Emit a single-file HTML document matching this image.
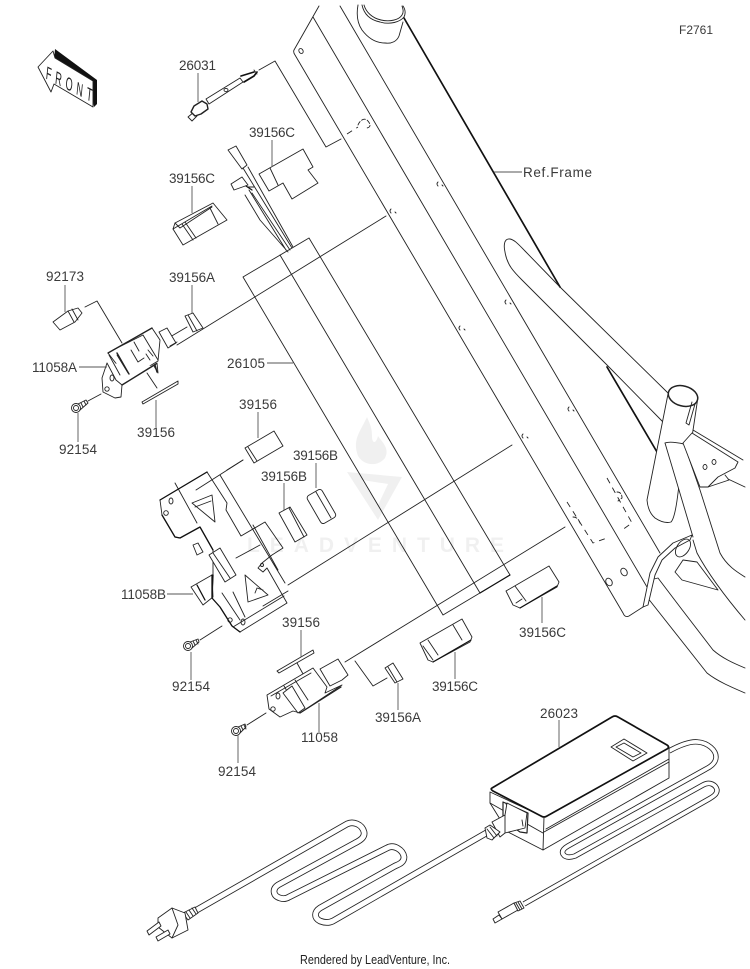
<!DOCTYPE html>
<html><head><meta charset="utf-8"><style>
html,body{margin:0;padding:0;background:#fff}
svg{display:block}
text{font-family:"Liberation Sans",sans-serif;font-size:13.5px;fill:#3a3a3a}
.l{fill:none;stroke:#222;stroke-width:.9;stroke-linejoin:round;stroke-linecap:round}
.w{fill:#fff;stroke:#222;stroke-width:.9;stroke-linejoin:round}
.t{fill:none;stroke:#111;stroke-width:1.7;stroke-linejoin:round;stroke-linecap:round}
.d{fill:none;stroke:#222;stroke-width:.9;stroke-dasharray:6 5}
.g{fill:none;stroke:#555;stroke-width:.9}
.c1{fill:none;stroke:#222;stroke-width:5.4;stroke-linejoin:round;stroke-linecap:butt}
.c2{fill:none;stroke:#fff;stroke-width:3.7;stroke-linejoin:round;stroke-linecap:butt}
.a1{fill:none;stroke:#222;stroke-width:6.6;stroke-linejoin:round;stroke-linecap:butt}
.a2{fill:none;stroke:#fff;stroke-width:4.9;stroke-linejoin:round;stroke-linecap:butt}
</style></head><body>
<svg width="750" height="969" viewBox="0 0 750 969" xmlns="http://www.w3.org/2000/svg">
<rect width="750" height="969" fill="#fff"/>

<!-- frame -->
<path class="l" d="M319 6L294 50Q293 52 295 55L623 613Q625 618 629 616L643 607"/>
<path class="l" d="M313 17L647 587"/>
<path class="l" d="M340 6L660 553"/>
<path class="t" d="M404 18L560 287"/>
<path class="t" d="M607 367L657 452"/>
<path class="l" d="M510 239C503 238 504 248 505 252C507 265 514 272 522 280L607 365L663 422"/>
<path class="l" d="M510 239C515 240 519 245 525 251L560 287L668 393"/>
<path class="l" d="M358 5C356 16 358 24 362 30C368 38 376 43 385 43C392 44 397 41 399 36L403 22"/>
<path class="l" d="M362 5C364 14 370 20 380 22C390 25 400 22 404 17C406 13 405 9 403 6"/>
<path class="l" d="M364 5C366 12 372 18 381 20C390 22 399 20 402 15C404 12 403 9 402 6"/>
<!-- ticks -->
<path class="l" d="M438 182q-2 2 0 4M442 185l1 1M391 209q-2 2 0 4M395 212l1 1M506 300q-2 2 0 4M510 303l1 1M460 326q-2 2 0 4M464 329l1 1M569 407q-2 2 0 4M573 410l1 1M523 434q-2 2 0 4M527 437l1 1"/>
<path class="l" d="M259 70L275 61L326 147L341 139"/>
<path class="d" d="M347 134L358 127"/>
<path class="l" stroke-dasharray="4 2" d="M358 125C360 120 364 118 367 120C371 124 371 127 367 128"/>
<ellipse class="l" cx="301" cy="51" rx="2" ry="2.6" transform="rotate(-30 301 51)"/>
<!-- post -->
<path class="w" d="M668 394L647 500Q648 512 655 518Q664 524 671 522Q675 518 678 493L684 446L692 437L698 397Z" />
<ellipse class="w" cx="683" cy="396" rx="15" ry="10" transform="rotate(15 683 396)" style="stroke-width:1.5"/>
<path class="l" d="M692 402L686 423M695 404L689 425M686 423L689 425"/>
<path class="w" d="M665 443Q670 441 684 444L700 490L720 553L745 577L745 620L717 587L697 553L693 537Z" style="stroke:none"/>
<path class="l" d="M665 443Q670 441 684 444L700 490L720 553C727 566 737 572 745 577"/>
<path class="l" d="M665 443L693 537"/>
<path class="l" d="M693 430L743 460M728 479L745 487"/>
<path class="w" d="M683 443L700 487L708 487L718 477L735 468L738 462L692 433Z"/>
<path class="l" d="M725 475L729 480L708 487"/>
<ellipse class="l" cx="705" cy="467" rx="2" ry="2.5"/><ellipse class="l" cx="714" cy="462" rx="2" ry="2.5"/>
<path class="l" d="M650 580L658 578L680 607L713 650C722 658 733 663 745 668"/>
<path class="l" d="M647 597L707 673C717 681 731 687 745 693"/>
<path class="l" d="M693 540L697 553C704 566 717 587 745 620"/>
<path class="l" d="M675 572L683 560L697 562L718 590M675 572L682 580L718 590"/>
<path class="w" d="M643 607L650 573L658 557L673 543L692 535L690 540L675 548L662 560L655 575L648 605Z"/>
<ellipse class="l" cx="683" cy="548" rx="6" ry="10" transform="rotate(35 683 548)"/>
<ellipse class="l" cx="609" cy="582" rx="3" ry="4" transform="rotate(-30 609 582)"/>
<ellipse class="l" cx="624" cy="572" rx="3" ry="4" transform="rotate(-30 624 572)"/>
<path class="d" d="M567 502L593 543L607 538"/>
<path class="d" d="M607 478L632 523L622 530"/>
<path class="l" stroke-dasharray="4 2" d="M617 492Q622 492 622 498L618 501M573 517Q578 517 580 523"/>

<!-- strap -->
<path class="l" d="M177 345L386 216"/>
<path class="l" d="M288 585L512 445"/>
<path class="l" d="M345 662L565 527"/>
<path class="l" d="M243 277L309 238L510 575L443 615Z"/>
<path class="l" d="M280 255L480 593"/>
<path class="t" style="stroke-width:1.2" d="M480 593L510 575"/>

<!-- sensor 26031 -->
<path class="w" d="M188 117L192 121L197 116L194 112Z"/>
<path class="w" d="M191 112L194 106L202 101L207 104L208 109L201 114L195 116Z" style="stroke-width:1.4"/>
<path class="w" d="M206 99L240 78L243 82L209 104Z"/>
<path class="t" d="M241 76L254 72M244 82L254 76L257 72"/>
<path class="l" d="M254 70L257 74"/>
<ellipse class="l" cx="226" cy="90" rx="2" ry="1.6"/>

<!-- wires -->
<path class="w" d="M228 150L236 146L247 165L242 169Z"/>
<path class="l" d="M243 168L292 248M248 167L293 247"/>
<path class="w" d="M231 184L242 177L248 185L234 190Z"/>
<path class="l" d="M245 195L260 220L288 252M252 193L290 250M248 187L254 187M249 190L286 250"/>
<path class="t" style="stroke-width:1.2" d="M246 186L252 190"/>

<!-- 39156C top -->
<path class="w" d="M259 174L303 149L313 167L308 170L318 183L292 199L283 183L269 191Z"/>
<path class="l" d="M270 168L278 185"/>
<!-- 39156C left -->
<path class="w" d="M173 229L175 223L213 203L227 220L183 245Z"/>
<path class="l" d="M175 223L180 228L212 207M182 224L193 240M185 222L196 238M210 208L218 224M173 229L212 206"/>

<!-- 92173 -->
<path class="w" d="M53 322L68 311L78 308L82 313L75 322L60 330Z"/>
<path class="l" d="M68 311L74 322M72 309L78 320"/>
<path class="l" d="M85 307L97 301L122 343"/>

<!-- 39156A upper -->
<path class="w" d="M185 316L193 313L203 328L193 332Z"/>
<path class="l" d="M188 315L197 331M170 337L187 327"/>

<!-- 11058A -->
<path class="w" d="M159 332L167 328L176 343L168 348Z"/>
<path class="l" d="M170 346L177 342"/>
<path class="w" d="M108 353L152 328L160 340L158 361L128 379Z"/>
<path class="w" d="M107 363L102 378L103 392L115 398L121 397L122 385L157 363L158 373L154 366"/>
<path class="l" style="stroke-width:1.3" d="M108 353L152 328"/>
<path class="l" d="M113 350L143 335L158 360M117 355L128 373M109 355L120 375M107 363L116 380L122 385"/>
<path class="l" style="stroke-width:1.4" d="M117 353L129 374M122 385L156 364M155 365L157 372"/>
<path class="l" d="M134 342L139 351M131 350L138 362L144 358M146 354L150 360M148 350L153 356"/>
<ellipse class="l" cx="112" cy="378" rx="2" ry="3"/><circle class="l" cx="107" cy="389" r="2.2"/>
<!-- screw -->
<circle class="l" cx="76" cy="408" r="4.5"/><circle class="l" cx="76" cy="408" r="2.5"/>
<path class="l" d="M78 404L86 400L88 403L80 410M81 403L83 407M84 401L86 405M88 401L101 394"/>
<!-- strip -->
<path class="w" d="M142 402L178 381L178 384L143 404Z"/>
<path class="l" d="M147 373L157 388"/>

<!-- 39156 upper -->
<path class="w" d="M245 448L274 431L283 446L254 463Z"/>
<path class="l" d="M248 447L257 461M227 470L243 460"/>

<!-- 11058B -->
<path class="w" d="M160 500L207 472L227 503L226 510L241 536L265 522L283 548L272 555L262 563L258 568L263 572L267 568L287 603L240 632L232 626L220 607L212 598L213 575L213 550L200 527L180 538L175 537L162 515Z"/>
<path class="t" style="stroke-width:1.3" d="M160 500L207 472M162 515L175 537L180 538L200 527L213 550M213 575L212 598L220 607L232 626L240 632"/>
<path class="l" d="M220 475L285 583M196 490L243 460M175 483L197 523M253 525L278 570M236 558L260 545M263 606L288 591M222 593L240 620M233 592L245 617M233 627L284 596"/>
<path class="l" d="M192 503L212 495L215 522Z M195 507L211 501"/>
<path class="l" d="M245 575L268 595L248 602Z M255 593L257 588L263 590"/>
<path class="w" d="M209 555L220 548L236 575L225 582Z"/>
<path class="l" d="M213 553L230 578"/>
<path class="w" d="M193 545L198 543L203 552L197 555Z"/>
<path class="w" d="M191 587L212 575L213 597L203 605Z"/>
<path class="t" style="stroke-width:1.3" d="M197 585L205 600M212 575L212 598"/>
<ellipse class="l" cx="171" cy="501" rx="2" ry="3"/><circle class="l" cx="166" cy="513" r="2.3"/>
<circle class="l" cx="230" cy="620" r="2.2"/><ellipse class="l" cx="243" cy="622" rx="2" ry="3"/>
<circle class="l" cx="262" cy="565" r="1.5"/>
<!-- screw -->
<circle class="l" cx="188" cy="646" r="4.5"/><circle class="l" cx="188" cy="646" r="2.5"/>
<path class="l" d="M190 642L198 639L199 642L192 648M193 641L195 645M196 640L198 644M200 640L222 626"/>

<!-- 39156B -->
<rect class="w" x="312" y="491" width="17" height="32" rx="3" transform="rotate(-30 320 505)"/>
<path class="l" d="M316 492L331 518"/>
<path class="w" d="M279 513L290 507L307 535L295 542Z"/>
<path class="l" d="M289 508L304 537"/>

<!-- 39156 lower -->
<path class="w" d="M277 671L313 650L314 653L279 673Z"/>
<path class="l" d="M297 663L308 683"/>
<!-- 11058 -->
<path class="w" d="M320 669L338 659L348 675L342 680L330 686Z"/>
<path class="w" d="M267 695L313 668L327 687L325 693L342 685L300 713L293 711L280 717L269 709Z"/>
<path class="l" d="M271 696L311 673M284 686L300 713M295 680L308 700"/>
<path class="w" d="M283 693L292 686L305 708L298 713Z"/>
<path class="l" style="stroke-width:1.3" d="M300 713L341 687"/>
<ellipse class="l" cx="278" cy="696" rx="2" ry="3"/><circle class="l" cx="273" cy="709" r="2.2"/>
<circle class="l" cx="236" cy="731" r="4.5"/><circle class="l" cx="236" cy="731" r="2.5"/>
<path class="l" d="M238 727L245 724L246 727L240 733M241 726L243 730M244 725L246 729M247 725L266 713"/>
<path class="l" d="M355 661L373 686L387 678"/>
<path class="w" d="M385 668L393 663L403 679L395 683Z"/>
<path class="l" d="M388 667L397 682"/>

<!-- 39156C mid -->
<path class="w" d="M420 643L462 619L472 637L470 642L433 662L428 660Z"/>
<path class="l" d="M428 640L438 655M453 625L462 640M423 646L433 660"/>
<path class="t" style="stroke-width:1.2" d="M433 662L471 640"/>
<!-- 39156C right -->
<path class="w" d="M506 591L549 566L559 582L557 587L520 608L513 605Z"/>
<path class="l" d="M515 586L526 601M522 599L516 603"/>
<path class="t" style="stroke-width:1.2" d="M520 608L557 586"/>

<!-- DC cord loop -->
<path class="c1" d="M669 751C680 745 690 741 698 742C708 743 716 750 716 757C716 762 712 766 706 769L568 846Q561 850 563 854Q566 859 575 856L703 785C710 781 716 785 717 790C717 794 714 796 709 799L524 904"/>
<path class="c2" d="M669 751C680 745 690 741 698 742C708 743 716 750 716 757C716 762 712 766 706 769L568 846Q561 850 563 854Q566 859 575 856L703 785C710 781 716 785 717 790C717 794 714 796 709 799L524 904"/>
<!-- Adapter -->
<path class="w" d="M490 792L490 803L508 832L543 850L669 778L669 747L544 817Z" style="stroke:#222"/>
<path class="w" d="M492 788L612 717Q615 715 618 717L667 745Q670 747 667 749L547 816Q544 818 541 816L493 791Q490 789 492 788Z" style="stroke:#111;stroke-width:1.7"/>
<path class="l" d="M544 817L543 850M544 832L669 762M546 829L669 759M490 803L543 833"/>
<path class="l" d="M611 747L624 739L647 753L633 761Z M616 747L624 743L641 753L633 757Z"/>
<path class="w" d="M503 802L528 813L527 833L520 832L503 820Z" style="stroke-width:1.2"/>
<path class="l" d="M506 804L525 815"/>
<!-- AC cord -->
<path class="a1" d="M195 911L347 824C353 821 362 824 364 832C365 837 361 840 355 843L278 885C272 889 273 896 280 898C283 899 286 899 289 897L387 848C394 844 403 850 404 857C404 862 400 864 395 866L320 908C314 912 314 918 320 921C325 923 329 923 333 921L488 832"/>
<path class="a2" d="M195 911L347 824C353 821 362 824 364 832C365 837 361 840 355 843L278 885C272 889 273 896 280 898C283 899 286 899 289 897L387 848C394 844 403 850 404 857C404 862 400 864 395 866L320 908C314 912 314 918 320 921C325 923 329 923 333 921L488 832"/>
<!-- AC plug at adapter -->
<path class="w" d="M492 822L505 815L507 803L527 813L525 828L505 833L500 837Z"/>
<path class="w" d="M485 828L490 825L500 832L492 840L487 838Z"/>
<path class="l" d="M487 829L494 838M490 827L497 836M505 815L505 833M522 820L523 826"/>
<!-- AC plug -->
<path class="w" d="M183 913L195 907L198 913L188 920Z"/>
<path class="l" d="M186 912L190 918M189 910L193 916M192 908L196 914"/>
<path class="w" d="M158 918L172 908L185 913L188 930L172 938L158 927Z"/>
<path class="l" d="M172 908L178 925L172 938"/>
<path class="w" d="M147 931L159 922L161 926L149 935Z"/>
<path class="w" d="M156 937L168 930L170 934L158 941Z"/>
<!-- DC plug -->
<path class="w" d="M498 912L514 903L518 910L502 919Z"/>
<path class="w" d="M493 919L499 915L502 919L495 923Z"/>
<path class="w" d="M514 903L520 901L524 908L518 911Z"/>
<path class="l" d="M516 903L520 910M518 902L522 909"/>

<!-- FRONT -->
<path d="M55 49L97 80L97 104L94 107L90 84L54 60Z" fill="#111"/>
<path class="w" d="M38 67L53 51L55 58L93 81L93 107L54 84L51 92Z" style="stroke:#222"/>
<text transform="matrix(.49 .25 -.1 1 45.5 78.5)" textLength="94" lengthAdjust="spacing" style="font-size:18px;fill:#222">FRONT</text>

<!-- leaders -->
<path class="g" d="M198 73V102M272 140V167M192 186V213M65 285V312M192 285V313M79 367H107M267 363H293M156 427V400M78 442V413M258 412V438M316 463V488M284 483V510M167 594H193M191 652V680M301 630V657M319 703V732M398 683V710M238 735V763M559 720V747M542 597V623M455 652V679M494 172H522"/>

<!-- labels -->
<text x="179" y="70" textLength="37">26031</text>
<text x="249" y="137" textLength="46">39156C</text>
<text x="169" y="183" textLength="46">39156C</text>
<text x="46" y="281" textLength="38">92173</text>
<text x="169" y="282" textLength="46">39156A</text>
<text x="32" y="372" textLength="45">11058A</text>
<text x="227" y="368" textLength="38">26105</text>
<text x="137" y="437" textLength="38">39156</text>
<text x="59" y="454" textLength="38">92154</text>
<text x="239" y="409" textLength="38">39156</text>
<text x="293" y="460" textLength="45">39156B</text>
<text x="261" y="481" textLength="46">39156B</text>
<text x="121" y="599" textLength="45">11058B</text>
<text x="172" y="691" textLength="38">92154</text>
<text x="282" y="627" textLength="38">39156</text>
<text x="301" y="742" textLength="37">11058</text>
<text x="375" y="722" textLength="46">39156A</text>
<text x="218" y="776" textLength="38">92154</text>
<text x="540" y="718" textLength="38">26023</text>
<text x="519" y="637" textLength="47">39156C</text>
<text x="432" y="691" textLength="46">39156C</text>
<text x="523" y="177" textLength="69">Ref.Frame</text>
<text x="679" y="34" textLength="34" style="font-size:12px">F2761</text>
<text x="300" y="964" textLength="150" lengthAdjust="spacingAndGlyphs" style="font-size:13px;fill:#222">Rendered by LeadVenture, Inc.</text>

<!-- watermark overlay -->
<g opacity=".055">
<path d="M367 417C360 432 352 440 358 456C364 466 378 467 385 458C390 448 382 442 378 436C376 444 372 444 372 436C372 428 370 424 367 417Z" fill="#000"/>
<path d="M347 472L402 477L378 520ZM362 480L378 505L388 484Z" fill="#000" fill-rule="evenodd"/>
<text x="247" y="552" textLength="257" lengthAdjust="spacing" style="font-size:21px;font-weight:bold;fill:#000">LEADVENTURE</text>
</g>
</svg>
</body></html>
